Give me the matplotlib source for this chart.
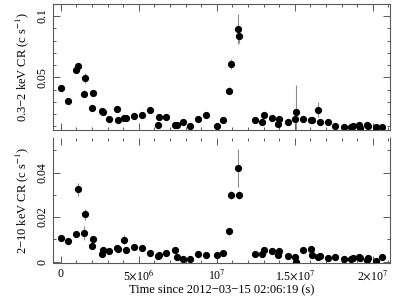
import numpy as np
import matplotlib
matplotlib.use("Agg")
import matplotlib.pyplot as plt
from matplotlib.ticker import MultipleLocator, FixedLocator, FixedFormatter

plt.rcParams['font.family'] = ['Liberation Serif', 'DejaVu Serif']
plt.rcParams['mathtext.fontset'] = 'stix'

# time since 2012-03-15 02:06:19 (units of 1e6 s)
t_mms = [0, 0.47, 0.96, 1.09, 1.5, 1.56, 1.99, 2.07, 2.63, 2.69, 3.08, 3.57, 3.67,
         4.06, 4.19, 4.7, 5.21, 5.7, 6.2, 6.3, 6.73, 7.3, 7.42, 7.8, 8.3, 8.8, 9.29,
         10.0, 10.4, 10.79, 10.9, 11.33, 11.41, 12.44, 12.9, 13.03, 13.53, 13.9, 13.99,
         14.53, 15.0, 15.1, 15.53, 16.03, 16.13, 16.5, 16.6, 17.1, 17.6, 18.14, 18.6,
         18.7, 19.1, 19.2, 19.6, 19.7, 20.2, 20.6]

# 0.3-2 keV count rate
soft = [0.0416, 0.0311, 0.0557, 0.0596, 0.0366, 0.0492, 0.0252, 0.0371, 0.0224, 0.0219,
        0.0161, 0.0246, 0.0153, 0.0170, 0.0170, 0.0189, 0.0194, 0.0235, 0.0112, 0.0180,
        0.0180, 0.0112, 0.0115, 0.0137, 0.0107, 0.0161, 0.0194, 0.0107, 0.0156, 0.0391,
        0.0609, 0.0893, 0.0839, 0.0153, 0.0137, 0.0194, 0.0166, 0.0117, 0.0161, 0.0134,
        0.0161, 0.0216, 0.0164, 0.0156, 0.0153, 0.0238, 0.0134, 0.0134, 0.0107, 0.0093,
        0.0093, 0.0104, 0.0109, 0.0090, 0.0115, 0.0104, 0.0098, 0.0093]
soft_err = [0.002, 0.002, 0.002, 0.002, 0.003, 0.004, 0.002, 0.002, 0.002, 0.002,
            0.002, 0.002, 0.002, 0.002, 0.002, 0.002, 0.002, 0.002, 0.002, 0.002,
            0.002, 0.002, 0.002, 0.002, 0.002, 0.002, 0.002, 0.002, 0.002, 0.003,
            0.004, 0.012, 0.006, 0.002, 0.002, 0.002, 0.002, 0.002, 0.002, 0.002,
            0.002, 0.022, 0.002, 0.002, 0.002, 0.006, 0.002, 0.002, 0.002, 0.001,
            0.001, 0.001, 0.001, 0.001, 0.002, 0.001, 0.001, 0.001]

# 2-10 keV count rate
hard = [0.0104, 0.0093, 0.0124, 0.0324, 0.0129, 0.0212, 0.0072, 0.0102, 0.0034, 0.0052,
        0.0047, 0.0059, 0.0058, 0.0098, 0.0053, 0.0067, 0.0059, 0.0037, 0.0027, 0.0028,
        0.0037, 0.0050, 0.0022, 0.0010, 0.0013, 0.0036, 0.0028, 0.0030, 0.0040, 0.0136,
        0.0299, 0.0422, 0.0299, 0.0032, 0.0032, 0.0050, 0.0046, 0.0031, 0.0046, 0.0024,
        0.0022, 0.0000, 0.0052, 0.0058, 0.0031, 0.0022, 0.0025, 0.0016, 0.0022, 0.0013,
        0.0013, 0.0015, 0.0022, 0.0018, 0.0006, 0.0015, 0.0004, 0.0020]
hard_err = [0.001, 0.001, 0.001, 0.003, 0.003, 0.0025, 0.0012, 0.0012, 0.0012, 0.0012,
            0.0012, 0.0012, 0.0012, 0.002, 0.0012, 0.0012, 0.0012, 0.0012, 0.0012, 0.0012,
            0.0012, 0.0012, 0.0012, 0.0012, 0.0012, 0.0012, 0.0012, 0.0012, 0.0012, 0.0015,
            0.002, 0.0085, 0.002, 0.0012, 0.0012, 0.0012, 0.0012, 0.0012, 0.0012, 0.0012,
            0.0012, 0.0012, 0.0012, 0.0012, 0.0012, 0.0012, 0.0012, 0.001, 0.001, 0.001,
            0.001, 0.001, 0.001, 0.001, 0.001, 0.001, 0.001, 0.001]

xticks = [0, 5e6, 1e7, 1.5e7, 2e7]
xticklabels = ['0', r'5$\times$10$^6$', r'10$^7$', r'1.5$\times$10$^7$', r'2$\times$10$^7$']

t = np.array(t_mms) * 1e6

fig = plt.figure(figsize=(4.05, 3.0), dpi=100)
ax1 = fig.add_axes([0.131, 0.567, 0.832, 0.419])
ax2 = fig.add_axes([0.131, 0.122, 0.832, 0.418])

spine_col = '0.35'
for ax, y, e in [(ax1, soft, soft_err), (ax2, hard, hard_err)]:
    ax.errorbar(t, y, yerr=e, fmt='o', color='black', ms=4.2, ecolor='0.55',
                elinewidth=0.8, capsize=0)
    ax.set_xlim(-0.5e6, 21.1e6)
    ax.xaxis.set_major_locator(FixedLocator(xticks))
    ax.xaxis.set_minor_locator(MultipleLocator(1e6))
    ax.tick_params(which='both', direction='in', top=True, right=True,
                   colors=spine_col, labelcolor='black', labelsize=8.5, width=0.7)
    ax.tick_params(which='major', length=5)
    ax.tick_params(which='minor', length=2.5)
    for s in ax.spines.values():
        s.set_color(spine_col)
        s.set_linewidth(0.8)

# top panel: soft band
ax1.set_ylim(0.0072, 0.1096)
ax1.yaxis.set_major_locator(FixedLocator([0.05, 0.1]))
ax1.yaxis.set_major_formatter(FixedFormatter(['0.05', '0.1']))
ax1.yaxis.set_minor_locator(MultipleLocator(0.01))
ax1.set_xticklabels([])
ax1.set_ylabel(u'0.3\u22122 keV CR (c s$^{-1}$)', fontsize=9, labelpad=4)

# bottom panel: hard band
ax2.set_ylim(-0.0008, 0.0555)
ax2.yaxis.set_major_locator(FixedLocator([0, 0.02, 0.04]))
ax2.yaxis.set_major_formatter(FixedFormatter(['0', '0.02', '0.04']))
ax2.yaxis.set_minor_locator(MultipleLocator(0.01))
ax2.spines['top'].set_visible(False)
ax2.xaxis.set_major_formatter(FixedFormatter(xticklabels))
ax2.set_ylabel(u'2\u221210 keV CR (c s$^{-1}$)', fontsize=9, labelpad=4)
ax2.set_xlabel(u'Time since 2012\u221203\u221215 02:06:19 (s)', fontsize=9, labelpad=1)

for ax in (ax1, ax2):
    for lab in ax.get_yticklabels():
        lab.set_rotation(90)
        lab.set_va('center')

fig.savefig('out.png', dpi=100)
